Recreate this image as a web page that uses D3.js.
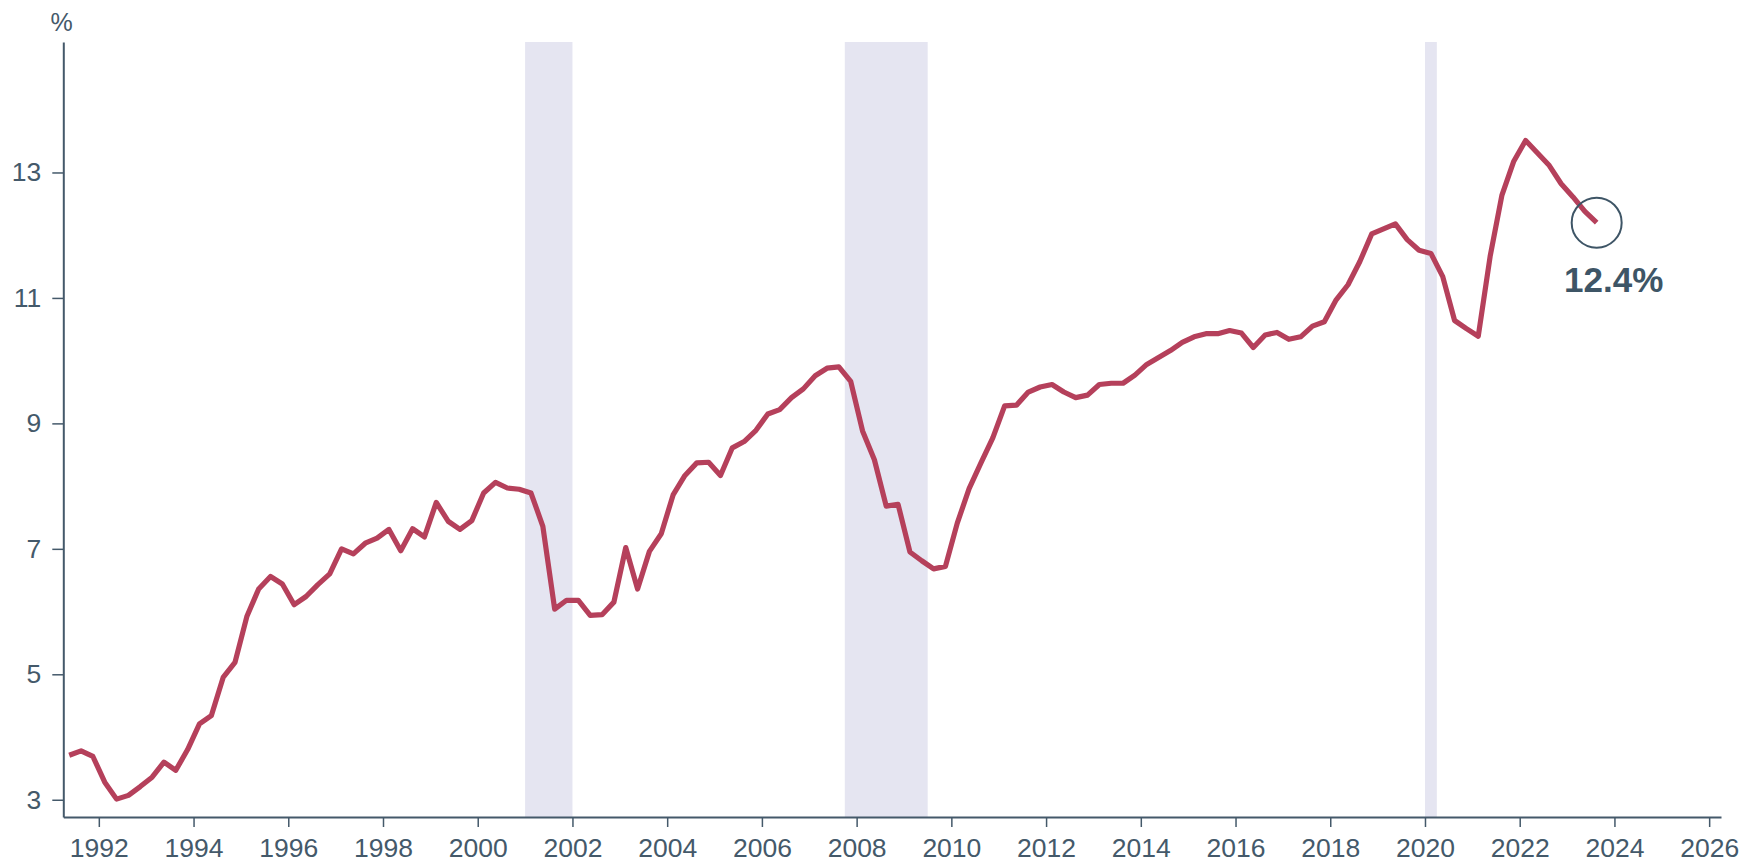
<!DOCTYPE html>
<html>
<head>
<meta charset="utf-8">
<script src="https://cdn.jsdelivr.net/npm/d3@7"></script>
<style>
  body { margin: 0; background: #fff; }
  svg { display: block; font-family: "Liberation Sans", Arial, Helvetica, sans-serif; }
  .axis path, .axis line { stroke: #44596a; }
  .axis text { fill: #44596a; font-size: 26.5px; }
</style>
</head>
<body>
<div id="chart"></div>
<script>
// quarterly series, first point is 1991 Q2
var firstQuarter = {year: 1991, q: 2};
var values = [
  3.71, 3.78, 3.69,
  3.28, 3.01, 3.07, 3.21,
  3.36, 3.60, 3.47, 3.80,
  4.21, 4.34, 4.95, 5.19,
  5.92, 6.36, 6.56, 6.44,
  6.11, 6.24, 6.43, 6.60,
  7.00, 6.92, 7.09, 7.17,
  7.31, 6.97, 7.32, 7.19,
  7.74, 7.44, 7.31, 7.45,
  7.89, 8.06, 7.97, 7.95,
  7.89, 7.36, 6.04, 6.18,
  6.18, 5.94, 5.95, 6.15,
  7.02, 6.36, 6.96, 7.24,
  7.86, 8.17, 8.37, 8.38,
  8.17, 8.61, 8.71, 8.89,
  9.15, 9.22, 9.41, 9.55,
  9.76, 9.88, 9.90, 9.67,
  8.88, 8.42, 7.68, 7.71,
  6.95, 6.81, 6.68, 6.72,
  7.41, 7.96, 8.37, 8.77,
  9.28, 9.29, 9.50, 9.58,
  9.62, 9.50, 9.41, 9.45,
  9.62, 9.64, 9.64, 9.77,
  9.94, 10.05, 10.16, 10.29,
  10.38, 10.43, 10.43, 10.48,
  10.44, 10.21, 10.41, 10.45,
  10.34, 10.38, 10.55, 10.62,
  10.97, 11.21, 11.58, 12.02,
  12.10, 12.18, 11.93, 11.76,
  11.71, 11.34, 10.64, 10.51,
  10.39, 11.66, 12.64, 13.18,
  13.51, 13.31, 13.11, 12.82,
  12.61, 12.38, 12.20
];
// recession periods (decimal years)
var recessions = [
  {start: 2001.0, end: 2002.0},
  {start: 2007.75, end: 2009.5},
  {start: 2020.0, end: 2020.25}
];
var yTicks = [3, 5, 7, 9, 11, 13];
var xTicks = d3.range(1992, 2027, 2);
var endLabel = "12.4%";
var unitLabel = "%";

var W = 1754, H = 863;
var margin = {top: 42, right: 33, bottom: 46, left: 63.3};

var svg = d3.select("#chart").append("svg")
  .attr("width", W).attr("height", H);

var x = d3.scaleLinear()
  .domain([1991.25, 2026.25])
  .range([margin.left, W - margin.right]);

var y = d3.scaleLinear()
  .domain([2.725, 15.08])
  .range([H - margin.bottom, margin.top]);

var data = values.map(function(v, i) {
  var qi = (firstQuarter.q - 1) + i;
  return {t: firstQuarter.year + qi / 4 + 0.125, v: v};
});

// recession bands
svg.append("g").selectAll("rect")
  .data(recessions)
  .enter().append("rect")
    .attr("x", function(d) { return x(d.start); })
    .attr("width", function(d) { return x(d.end) - x(d.start); })
    .attr("y", y.range()[1])
    .attr("height", y.range()[0] - y.range()[1])
    .attr("fill", "#e5e5f1");

// axes
svg.append("g")
  .attr("class", "axis")
  .attr("transform", "translate(0," + y.range()[0] + ")")
  .call(d3.axisBottom(x).tickValues(xTicks).tickFormat(d3.format("d"))
    .tickSize(10).tickSizeOuter(0).tickPadding(11));

svg.append("g")
  .attr("class", "axis")
  .attr("transform", "translate(" + x.range()[0] + ",0)")
  .call(d3.axisLeft(y).tickValues(yTicks).tickFormat(d3.format("d"))
    .tickSize(11).tickSizeOuter(0).tickPadding(11));

svg.selectAll(".axis .domain").attr("stroke-width", 2);
svg.selectAll(".axis .tick line").attr("stroke-width", 1.5);

svg.append("text")
  .attr("x", 61.5)
  .attr("y", 31)
  .attr("text-anchor", "middle")
  .attr("fill", "#44596a")
  .style("font-size", "25px")
  .text(unitLabel);

// the series
var line = d3.line()
  .x(function(d) { return x(d.t); })
  .y(function(d) { return y(d.v); });

svg.append("path")
  .datum(data)
  .attr("fill", "none")
  .attr("stroke", "#b5405b")
  .attr("stroke-width", 5.2)
  .attr("stroke-linejoin", "round")
  .attr("d", line);

// end marker
var last = data[data.length - 1];
svg.append("circle")
  .attr("cx", x(last.t))
  .attr("cy", y(last.v))
  .attr("r", 25)
  .attr("fill", "none")
  .attr("stroke", "#3e5566")
  .attr("stroke-width", 2);

svg.append("text")
  .attr("x", x(last.t) + 17)
  .attr("y", y(last.v) + 69)
  .attr("text-anchor", "middle")
  .attr("fill", "#3e5566")
  .style("font-size", "35px")
  .style("font-weight", "bold")
  .text(endLabel);
</script>
</body>
</html>
